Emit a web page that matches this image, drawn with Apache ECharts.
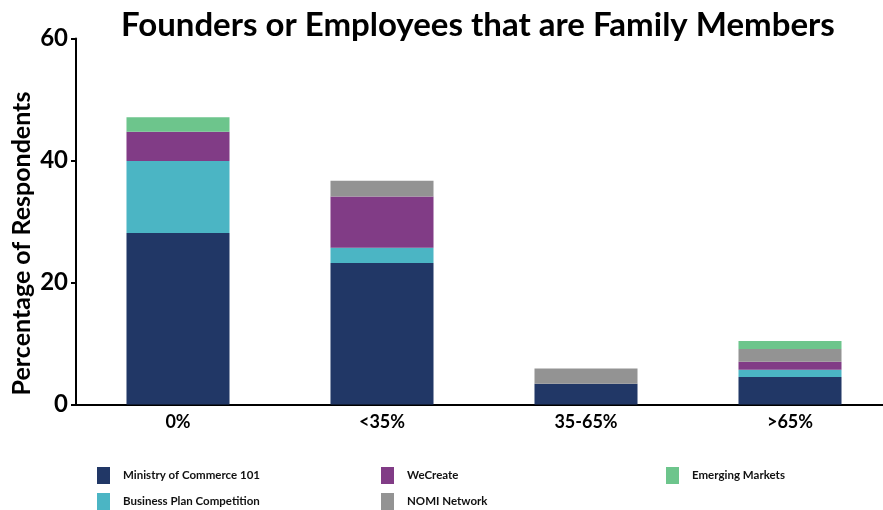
<!DOCTYPE html>
<html>
<head>
<meta charset="utf-8">
<script src="https://cdn.jsdelivr.net/npm/echarts@6/dist/echarts.min.js"></script>
<style>
  html, body { margin: 0; padding: 0; background: #fff; }
  #chart { width: 883px; height: 510px; }
</style>
</head>
<body>
<div id="chart"></div>
<script>
// Share of family members among founders/employees, by program
const categories = ['0%', '<35%', '35-65%', '>65%'];
const ministry = [28.1, 23.2, 3.4, 4.5];
const businessPlan = [11.8, 2.5, 0, 1.2];
const weCreate = [4.8, 8.4, 0, 1.3];
const nomi = [0, 2.6, 2.5, 2.1];
const emerging = [2.4, 0, 0, 1.3];
const yTicks = [0, 20, 40, 60];

const FONT = 'Lato';
const chart = echarts.init(document.getElementById('chart'));

function bar(name, data, color) {
  return {
    name: name,
    type: 'bar',
    stack: 'total',
    barWidth: '50.5%',
    data: data.map(v => (v === 0 ? null : v)),
    itemStyle: { color: color },
    emphasis: { disabled: true }
  };
}

const legendText = {
  fontFamily: FONT, fontWeight: 'bold', fontSize: 11.5, color: '#111',
  padding: [0, 0, 0, 8]
};
// one legend entry per slot: three columns, two rows
function legendItem(name, left, top) {
  return {
    left: left,
    top: top,
    padding: 0,
    itemWidth: 13,
    itemHeight: 17,
    icon: 'rect',
    textStyle: legendText,
    data: [name],
    selectedMode: false
  };
}

chart.setOption({
  animation: false,
  title: {
    text: 'Founders or Employees that are Family Members',
    left: 121,
    top: 9,
    textStyle: { fontFamily: FONT, fontWeight: 'bold', fontSize: 33, color: '#000' },
    padding: 0
  },
  legend: [
    legendItem('Ministry of Commerce 101', 97, 467),
    legendItem('Business Plan Competition', 97, 493),
    legendItem('WeCreate', 381, 467),
    legendItem('NOMI Network', 381, 493),
    legendItem('Emerging Markets', 666, 467)
  ],
  grid: {
    left: 76, top: 38.5, width: 816, height: 366,
    containLabel: false, outerBoundsMode: 'none'
  },
  xAxis: {
    type: 'category',
    data: categories,
    axisLine: { lineStyle: { color: '#000', width: 2 } },
    axisTick: { show: false },
    axisLabel: { fontFamily: FONT, fontWeight: 'bold', fontSize: 18, color: '#000', margin: 9 }
  },
  yAxis: {
    type: 'value',
    min: yTicks[0],
    max: yTicks[yTicks.length - 1],
    interval: 20,
    name: 'Percentage of Respondents',
    nameLocation: 'middle',
    nameGap: 42,
    nameMoveOverlap: false,
    nameTextStyle: {
      fontFamily: FONT, fontWeight: 'bold', fontSize: 25, color: '#000',
      padding: [0, 44, 0, 0]
    },
    axisLine: { show: true, lineStyle: { color: '#000', width: 2 } },
    axisTick: { show: true, length: 5, lineStyle: { color: '#000', width: 2 } },
    axisLabel: { fontFamily: FONT, fontWeight: 'bold', fontSize: 24, color: '#000', margin: 8 },
    splitLine: { show: false }
  },
  series: [
    bar('Ministry of Commerce 101', ministry, '#213766'),
    bar('Business Plan Competition', businessPlan, '#4BB5C4'),
    bar('WeCreate', weCreate, '#813C86'),
    bar('NOMI Network', nomi, '#939393'),
    bar('Emerging Markets', emerging, '#6DC58C')
  ]
});
</script>
</body>
</html>
